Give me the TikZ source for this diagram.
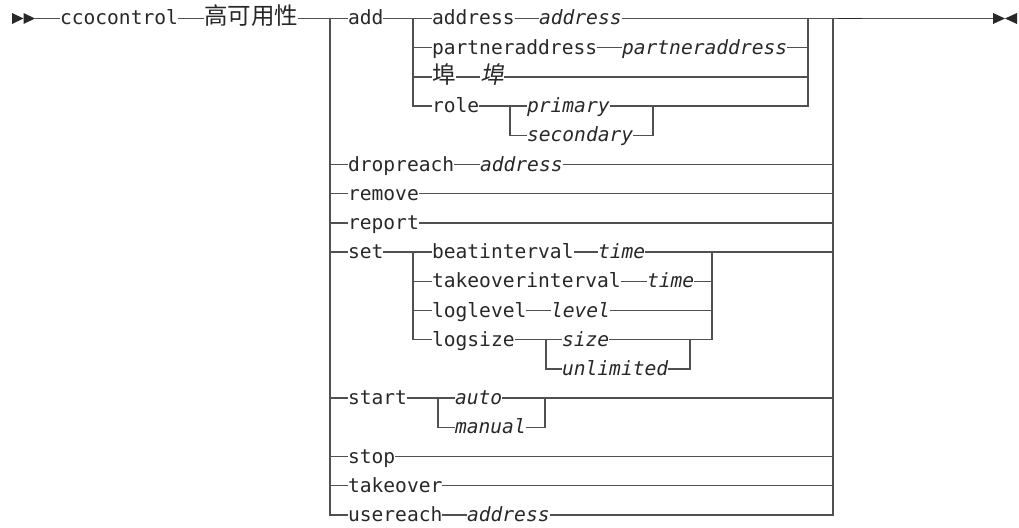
\documentclass[tikz,border=0pt]{standalone}
\usepackage{fontspec}
\setmonofont{DejaVu Sans Mono}
\newfontfamily\cjk{Noto Sans CJK SC}
\newfontfamily\cjkit[FakeSlant=0.2]{Noto Sans CJK SC}
\definecolor{linec}{RGB}{80,80,80}
\definecolor{textc}{RGB}{40,40,40}
\tikzset{
  kw/.style={inner sep=0pt, outer sep=0pt, anchor=west, text height=15pt, text depth=2pt,
    font=\fontsize{19.6}{20}\selectfont\ttfamily, text=textc},
  var/.style={kw, font=\fontsize{19.6}{20}\selectfont\ttfamily\itshape},
  cj/.style={kw, font=\fontsize{23.5}{24}\selectfont\cjk},
  cjv/.style={kw, font=\fontsize{23.5}{24}\selectfont\cjkit},
  rail/.style={draw=linec, line width=1.4pt},
  tip/.style={fill=textc, draw=none}
}
\begin{document}
\begin{tikzpicture}[x=1pt,y=-1pt]
\useasboundingbox (0,0) rectangle (1019,527);
% rows
\def\ra{18.5}\def\rb{47.7}\def\rc{76.9}\def\rd{106.1}\def\re{135.3}
\def\rf{164.5}\def\rg{193.7}\def\rh{222.9}\def\ri{252.1}\def\rj{281.3}
\def\rk{310.5}\def\rl{339.7}\def\rm{368.9}\def\rn{398.1}\def\ro{427.3}
\def\rp{456.5}\def\rq{485.7}\def\rr{514.9}
% nodes
\node[kw] (cco) at (60,\ra) {ccocontrol};
\node[cj] (gao) at (204,\ra) {高可用性};
\node[kw] (add) at (348,\ra) {add};
\node[kw] (addrK) at (432,\ra) {address};
\node[var] (addrV) at (539,\ra) {address};
\node[kw] (partK) at (432,\rb) {partneraddress};
\node[var] (partV) at (622,\rb) {partneraddress};
\node[cj] (portK) at (432,\rc) {埠};
\node[cjv] (portV) at (480,\rc) {埠};
\node[kw] (role) at (432,\rd) {role};
\node[var] (primary) at (527,\rd) {primary};
\node[var] (secondary) at (527,\re) {secondary};
\node[kw] (drop) at (348,\rf) {dropreach};
\node[var] (dropV) at (480,\rf) {address};
\node[kw] (remove) at (348,\rg) {remove};
\node[kw] (report) at (348,\rh) {report};
\node[kw] (set) at (348,\ri) {set};
\node[kw] (beatK) at (432,\ri) {beatinterval};
\node[var] (beatV) at (598,\ri) {time};
\node[kw] (takeK) at (432,\rj) {takeoverinterval};
\node[var] (takeV) at (647,\rj) {time};
\node[kw] (loglK) at (432,\rk) {loglevel};
\node[var] (loglV) at (551,\rk) {level};
\node[kw] (logsK) at (432,\rl) {logsize};
\node[var] (size) at (562,\rl) {size};
\node[var] (unlimited) at (562,\rm) {unlimited};
\node[kw] (start) at (348,\rn) {start};
\node[var] (auto) at (455,\rn) {auto};
\node[var] (manual) at (455,\ro) {manual};
\node[kw] (stop) at (348,\rp) {stop};
\node[kw] (takeover) at (348,\rq) {takeover};
\node[kw] (usereach) at (348,\rr) {usereach};
\node[var] (useV) at (467,\rr) {address};
% junction coordinates
\coordinate (bgn) at (35,\ra);
\coordinate (fin) at (993,\ra);
\coordinate (L) at (330,\ra);
\coordinate (R) at (833,\ra);
\coordinate (AL) at (413,\ra);
\coordinate (AR) at (808,\ra);
\coordinate (RL) at (510,\rd);
\coordinate (RR) at (653,\rd);
\coordinate (SL) at (413,\ri);
\coordinate (SR) at (712,\ri);
\coordinate (GL) at (546,\rl);
\coordinate (GR) at (690,\rl);
\coordinate (TL) at (438,\rn);
\coordinate (TR) at (545,\rn);
\coordinate (dA) at (838,\ra);
\coordinate (dB) at (862,\ra);
% start / end marks
\fill[tip] (12,13) -- (23.5,\ra) -- (12,24) -- cycle;
\fill[tip] (23.5,13) -- (35,\ra) -- (23.5,24) -- cycle;
\fill[tip] (993,13) -- (1005,\ra) -- (993,24) -- cycle;
\fill[tip] (1017,13) -- (1005,\ra) -- (1017,24) -- cycle;
% main line
\draw[rail] (bgn) -- (cco.west);
\draw[rail] (cco.east) -- (gao.west);
\draw[rail] (gao.east) -- (add.west);
\draw[rail] (add.east) -- (addrK.west);
\draw[rail] (addrK.east) -- (addrV.west);
\draw[rail] (addrV.east) -- (fin);
\draw[rail, draw=textc, line width=1.6pt] (dA) -- (dB);
% main choice
\draw[rail] (L) |- (usereach.west);
\foreach \n in {drop,remove,report,set,start,stop,takeover}
  \draw[rail] (L |- \n.west) -- (\n.west);
\draw[rail] (R) |- (useV.east);
\foreach \n in {dropV,remove,report,beatV,auto,stop,takeover}
  \draw[rail] (\n.east) -- (\n.east -| R);
\draw[rail] (drop.east) -- (dropV.west);
\draw[rail] (usereach.east) -- (useV.west);
% add group
\draw[rail] (AL) |- (role.west);
\draw[rail] (AL |- partK.west) -- (partK.west);
\draw[rail] (AL |- portK.west) -- (portK.west);
\draw[rail] (partK.east) -- (partV.west);
\draw[rail] (partV.east) -- (partV.east -| AR);
\draw[rail] (portK.east) -- (portV.west);
\draw[rail] (portV.east) -- (portV.east -| AR);
\draw[rail] (role.east) -- (primary.west);
\draw[rail] (primary.east) -| (AR);
\draw[rail] (RL) |- (secondary.west);
\draw[rail] (secondary.east) -| (RR);
% set group
\draw[rail] (set.east) -- (beatK.west);
\draw[rail] (beatK.east) -- (beatV.west);
\draw[rail] (SL) |- (logsK.west);
\draw[rail] (SL |- takeK.west) -- (takeK.west);
\draw[rail] (SL |- loglK.west) -- (loglK.west);
\draw[rail] (takeK.east) -- (takeV.west);
\draw[rail] (takeV.east) -- (takeV.east -| SR);
\draw[rail] (loglK.east) -- (loglV.west);
\draw[rail] (loglV.east) -- (loglV.east -| SR);
\draw[rail] (logsK.east) -- (size.west);
\draw[rail] (size.east) -| (SR);
\draw[rail] (GL) |- (unlimited.west);
\draw[rail] (unlimited.east) -| (GR);
% start group
\draw[rail] (start.east) -- (auto.west);
\draw[rail] (TL) |- (manual.west);
\draw[rail] (manual.east) -| (TR);
\end{tikzpicture}
\end{document}
